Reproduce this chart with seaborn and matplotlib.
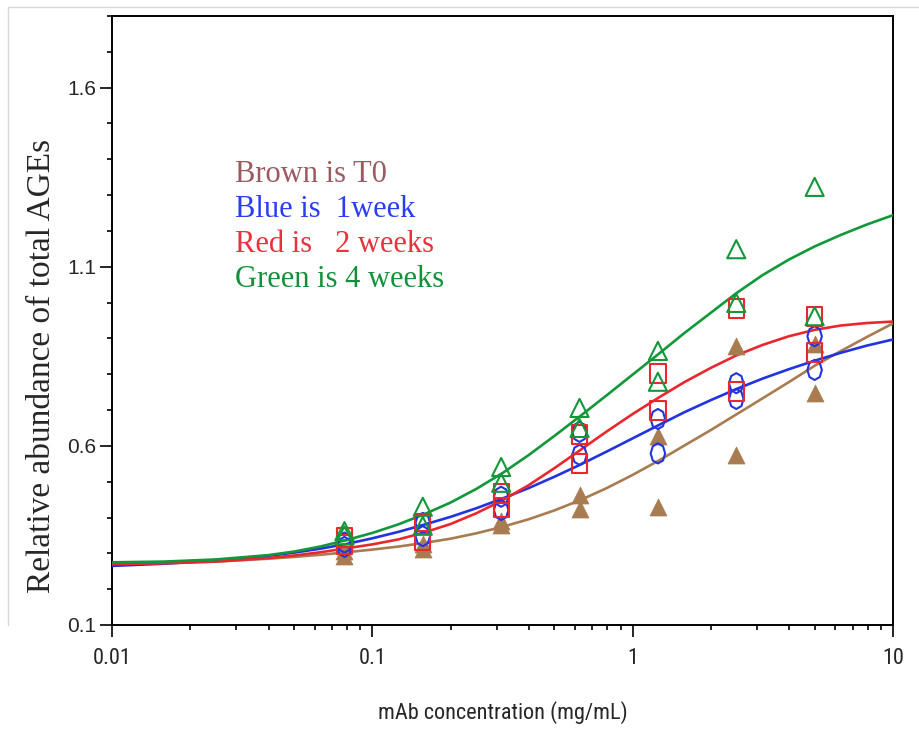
import numpy as np
import pandas as pd
import matplotlib
matplotlib.use("Agg")
import matplotlib.pyplot as plt
import matplotlib.font_manager as fm
from matplotlib.path import Path
from matplotlib.lines import Line2D
from matplotlib.ticker import FixedLocator, FixedFormatter, LogLocator, MultipleLocator, NullFormatter
import seaborn as sns

# ---------------- data ----------------
conc = [0.078125, 0.15625, 0.3125, 0.625, 1.25, 2.5, 5.0]

t0_rep1 = [0.307, 0.325, 0.389, 0.463, 0.627, 0.879, 0.885]
t0_rep2 = [0.293, 0.312, 0.379, 0.425, 0.428, 0.575, 0.747]
w1_rep1 = [0.330, 0.385, 0.458, 0.639, 0.675, 0.775, 0.906]
w1_rep2 = [0.318, 0.348, 0.421, 0.575, 0.579, 0.731, 0.812]
w2_rep1 = [0.345, 0.382, 0.467, 0.631, 0.801, 0.983, 0.962]
w2_rep2 = [0.325, 0.335, 0.427, 0.550, 0.698, 0.752, 0.860]
w4_rep1 = [0.362, 0.430, 0.541, 0.706, 0.865, 1.149, 1.323]
w4_rep2 = [0.350, 0.377, 0.497, 0.650, 0.779, 0.999, 0.962]

# fitted curves
curve_x = [0.01, 0.0158, 0.0251, 0.0398, 0.0501, 0.0631, 0.0794, 0.1, 0.126, 0.158,
           0.2, 0.251, 0.316, 0.398, 0.501, 0.631, 0.794, 1.0, 1.26, 1.58,
           2.0, 2.51, 3.16, 3.98, 5.01, 6.31, 7.94, 10.0]
curve_t0 = [0.273, 0.274, 0.277, 0.285, 0.290, 0.296, 0.303, 0.3105, 0.319, 0.329,
            0.341, 0.356, 0.374, 0.395, 0.420, 0.449, 0.482, 0.519, 0.559, 0.601,
            0.6445, 0.6885, 0.733, 0.778, 0.824, 0.865, 0.904, 0.942]
curve_w1 = [0.265, 0.271, 0.280, 0.293, 0.302, 0.313, 0.326, 0.342, 0.360, 0.380,
            0.402, 0.426, 0.453, 0.482, 0.514, 0.548, 0.584, 0.621, 0.658, 0.694,
            0.728, 0.759, 0.788, 0.814, 0.838, 0.860, 0.880, 0.897]
curve_w2 = [0.270, 0.272, 0.277, 0.287, 0.294, 0.303, 0.314, 0.325, 0.339, 0.358,
            0.382, 0.412, 0.448, 0.490, 0.538, 0.589, 0.640, 0.689, 0.735, 0.778,
            0.818, 0.853, 0.882, 0.906, 0.924, 0.936, 0.943, 0.947]
curve_w4 = [0.275, 0.277, 0.283, 0.295, 0.305, 0.319, 0.337, 0.357, 0.381, 0.409,
            0.442, 0.480, 0.524, 0.574, 0.628, 0.684, 0.741, 0.799, 0.857, 0.915,
            0.972, 1.027, 1.077, 1.120, 1.157, 1.189, 1.218, 1.244]

legend_lines = ["Brown is T0", "Blue is  1week", "Red is   2 weeks", "Green is 4 weeks"]
x_ticks = [0.01, 0.1, 1, 10]
x_tick_labels = ["0.01", "0.1", "1", "10"]
y_ticks = [0.1, 0.6, 1.1, 1.6]
y_tick_labels = ["0.1", "0.6", "1.1", "1.6"]

# ---------------- styling ----------------
BROWN = "#a87c50"
BLUE = "#2233e0"
RED = "#e8282e"
GREEN = "#12983a"
TXT_COLORS = ["#9a5a60", "#2a3ef0", "#e8323e", "#13913a"]

sns.set_style("ticks")
plt.rcParams["font.family"] = ["Liberation Sans", "DejaVu Sans"]

installed = {f.name for f in fm.fontManager.ttflist}
narrow = None
for f in ["Liberation Sans Narrow", "Arial Narrow", "Roboto Condensed", "DejaVu Sans Condensed"]:
    if f in installed:
        narrow = f
        break
if narrow is None:
    narrow = "Liberation Sans"
    xt_size, xl_size = 14, 13.5
else:
    xt_size, xl_size = 16, 16

serif = ["Liberation Serif", "DejaVu Serif"]

# custom marker shapes (slightly tall ellipse / rectangle like the original)
theta = np.linspace(0, 2 * np.pi, 9)
ell = Path(np.column_stack([0.36 * np.sin(theta), 0.5 * np.cos(theta)]), closed=True)
rect = Path([(-0.4, -0.5), (0.4, -0.5), (0.4, 0.5), (-0.4, 0.5), (-0.4, -0.5)], closed=True)

fig = plt.figure(figsize=(9.19, 7.36), dpi=100)
ax = fig.add_axes([112 / 919, 1 - 625 / 736, (893 - 112) / 919, (625 - 16) / 736])

n = len(curve_x)
curves = pd.DataFrame({
    "x": curve_x * 4,
    "y": curve_t0 + curve_w1 + curve_w2 + curve_w4,
    "grp": ["T0"] * n + ["1w"] * n + ["2w"] * n + ["4w"] * n,
})
pal = {"T0": BROWN, "1w": BLUE, "2w": RED, "4w": GREEN}
for g in ["T0", "1w", "2w", "4w"]:
    sub = curves[curves.grp == g]
    sns.lineplot(data=sub, x="x", y="y", color=pal[g], linewidth=1.9, ax=ax,
                 estimator=None, sort=True, legend=False, zorder=3)

pts = [
    (t0_rep1 + t0_rep2, BROWN, "^", True, 150),
    (w1_rep1 + w1_rep2, BLUE, ell, False, 210),
    (w2_rep1 + w2_rep2, RED, rect, False, 190),
    (w4_rep1 + w4_rep2, GREEN, "^", False, 170),
]
for yv, c, m, filled, s in pts:
    df = pd.DataFrame({"x": conc * 2, "y": yv})
    if filled:
        sns.scatterplot(data=df, x="x", y="y", marker=m, s=s, color=c,
                        edgecolor=c, linewidth=0.5, ax=ax, zorder=4, legend=False)
    else:
        sns.scatterplot(data=df, x="x", y="y", marker=m, s=s, facecolors="none",
                        edgecolor=c, linewidth=1.5, ax=ax, zorder=4, legend=False)

ax.set_xscale("log")
ax.set_xlim(0.01, 10)
ax.set_ylim(0.1, 1.8)

ax.xaxis.set_major_locator(FixedLocator(x_ticks))
ax.xaxis.set_major_formatter(FixedFormatter(x_tick_labels))
ax.xaxis.set_minor_locator(LogLocator(base=10, subs=np.arange(2, 10)))
ax.xaxis.set_minor_formatter(NullFormatter())
ax.yaxis.set_major_locator(FixedLocator(y_ticks))
ax.yaxis.set_major_formatter(FixedFormatter(y_tick_labels))
ax.yaxis.set_minor_locator(MultipleLocator(0.1))

for side in ["left", "bottom", "right", "top"]:
    ax.spines[side].set_visible(True)
    ax.spines[side].set_linewidth(1.4)
    ax.spines[side].set_color("black")

ax.tick_params(axis="both", which="major", direction="out", length=8.5, width=1.2, color="black")
ax.tick_params(axis="both", which="minor", direction="out", length=3.8, width=1.2, color="black")
ax.tick_params(axis="y", which="major", pad=3, labelsize=15)
ax.tick_params(axis="x", which="major", pad=8, labelsize=xt_size)
for lab in ax.get_xticklabels():
    lab.set_family([narrow, "DejaVu Sans"])

ax.set_xlabel("mAb concentration (mg/mL)", fontsize=xl_size, family=[narrow, "DejaVu Sans"])
ax.xaxis.label.set_va("center")
ax.xaxis.set_label_coords(0.5, (625 - 713) / 609)

ax.set_ylabel("Relative abundance of total AGEs", fontsize=24, family=serif)
ax.yaxis.label.set_va("center")
ax.yaxis.set_label_coords((42 - 112) / 781, (625 - 366) / 609)

baselines = [181.7, 216.7, 251.7, 286.7]
for txt, col, yb in zip(legend_lines, TXT_COLORS, baselines):
    fig.text(235 / 919, 1 - yb / 736, txt, color=col, fontsize=22,
             family=serif, va="baseline", ha="left")

# faint screenshot frame lines
fig.add_artist(Line2D([8 / 919, 8 / 919], [1 - 7 / 736, 1 - 625 / 736],
                      transform=fig.transFigure, color="#d8d8d8", linewidth=1.0))
fig.add_artist(Line2D([8 / 919, 1.0], [1 - 7 / 736, 1 - 7 / 736],
                      transform=fig.transFigure, color="#d8d8d8", linewidth=1.0))

fig.savefig("out.png", dpi=100)
